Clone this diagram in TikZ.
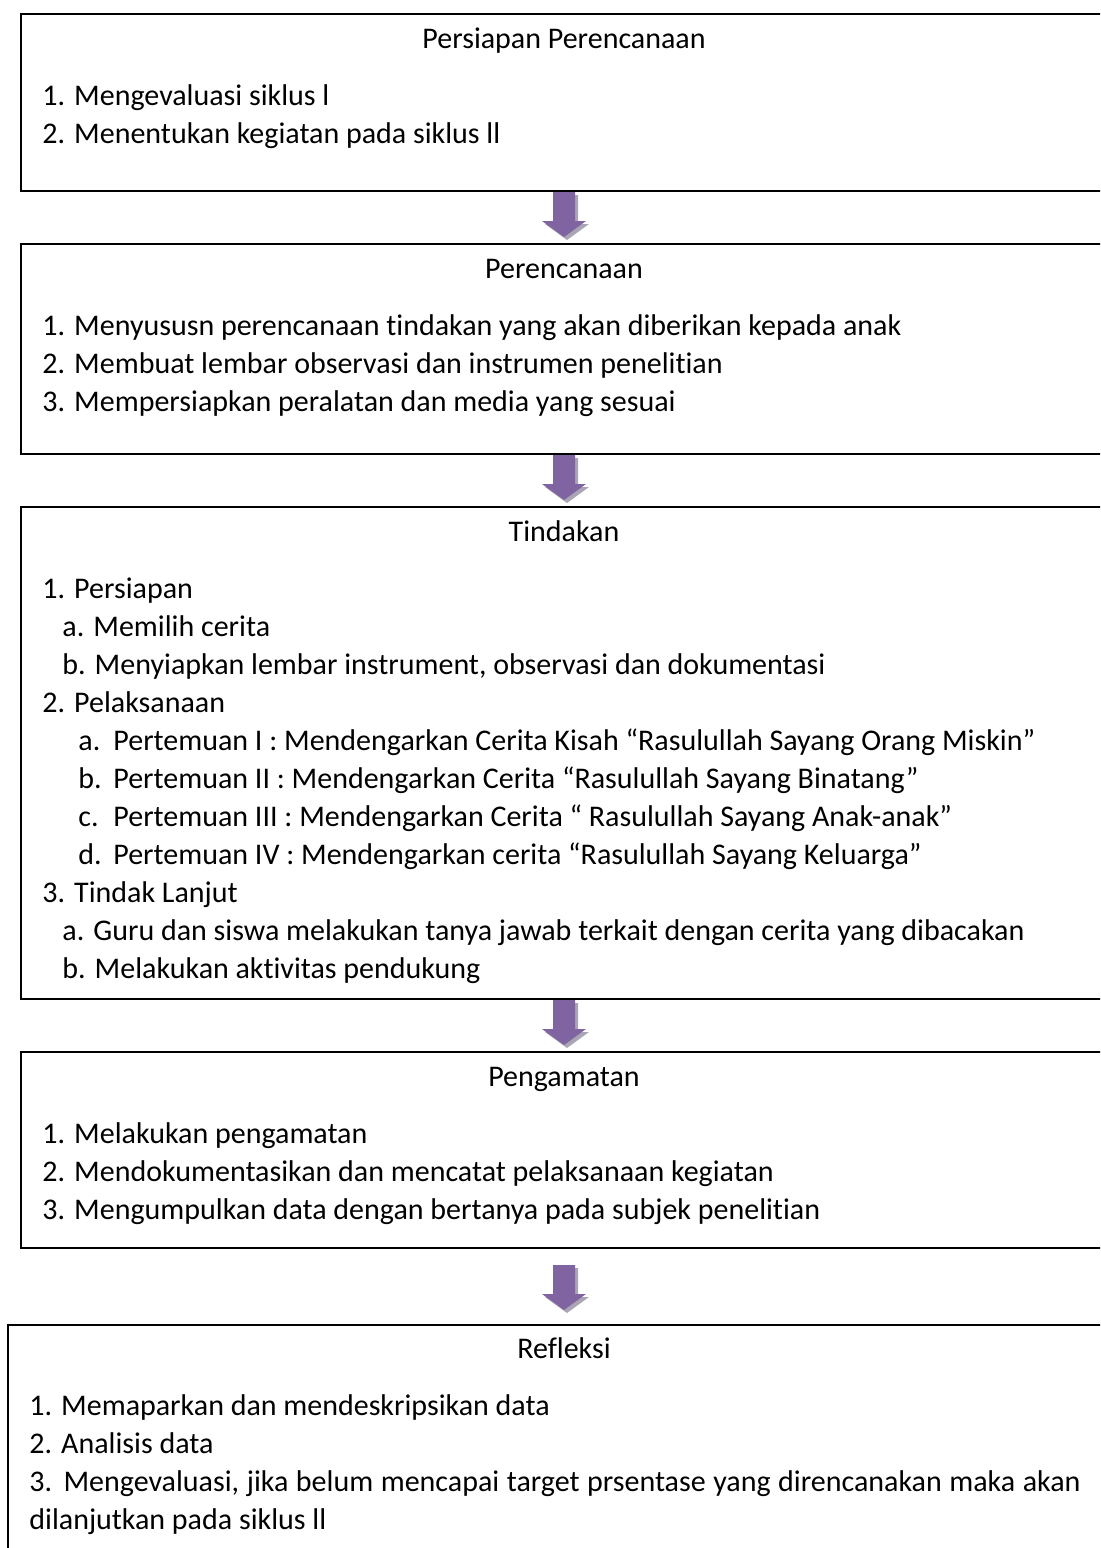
\documentclass[tikz,border=0pt]{standalone}
\usepackage{fontspec}
\setmainfont{Carlito}[Ligatures=NoCommon]
\usetikzlibrary{calc}
\definecolor{arrowpurple}{RGB}{128,100,162}
\definecolor{arrowshadow}{RGB}{170,165,180}
\tikzset{
  boxst/.style={draw=black, line width=1pt, rectangle, inner sep=0pt, anchor=north west},
  txt/.style={anchor=west, inner sep=0pt, font=\fontsize{15}{18}\selectfont, text height=0.7em, text depth=0.2em},
  ttl/.style={txt, anchor=center},
}
\newcommand\barrow[1]{%
  \begin{scope}[shift={#1}]
    \fill[arrowshadow] (-8,3) -- (14,3) -- (14,32) -- (25,32) -- (3,48) -- (-19,32) -- (-8,32) -- cycle;
    \fill[arrowpurple] (-11,0) -- (11,0) -- (11,29) -- (22,29) -- (0,45) -- (-22,29) -- (-11,29) -- cycle;
  \end{scope}}
\begin{document}
\begin{tikzpicture}[x=0.5pt,y=-0.5pt]
\clip (0,0) rectangle (1100,1548);
\fill[white] (0,0) rectangle (1100,1548);
\coordinate (ax) at (564,0);
% boxes
\node[boxst, minimum width=550pt, minimum height=88.5pt] (b1) at (20,13) {};
\node[boxst, minimum width=550pt, minimum height=105pt] (b2) at (20,243) {};
\node[boxst, minimum width=550pt, minimum height=246pt] (b3) at (20,506) {};
\node[boxst, minimum width=550pt, minimum height=98pt] (b4) at (20,1051) {};
\node[boxst, minimum width=555pt, minimum height=120pt] (b5) at (7,1324) {};
% arrows
\barrow{(b1.south -| ax)}
\barrow{(b2.south -| ax)}
\barrow{(b3.south -| ax)}
\barrow{($(b4.south -| ax)+(0,16)$)}
% box 1
\node[ttl] (t1) at (564,43) {Persiapan Perencanaan};
\node[txt] (t1a) at (42,100) {1. Mengevaluasi siklus l};
\node[txt] (t1b) at (42,138) {2. Menentukan kegiatan pada siklus ll};
% box 2
\node[ttl] (t2) at (564,273) {Perencanaan};
\node[txt] (t2a) at (42,330) {1. Menyususn perencanaan tindakan yang akan diberikan kepada anak};
\node[txt] (t2b) at (42,368) {2. Membuat lembar observasi dan instrumen penelitian};
\node[txt] (t2c) at (42,406) {3. Mempersiapkan peralatan dan media yang sesuai};
% box 3
\node[ttl] (t3) at (564,536) {Tindakan};
\node[txt] (t3a) at (42,593) {1. Persiapan};
\node[txt] (t3b) at (62,631) {a. Memilih cerita};
\node[txt] (t3c) at (62,669) {b. Menyiapkan lembar instrument, observasi dan dokumentasi};
\node[txt] (t3d) at (42,707) {2. Pelaksanaan};
\node[txt] (t3e) at (78,745) {\makebox[17.5pt][l]{a.}Pertemuan I : Mendengarkan Cerita Kisah “Rasulullah Sayang Orang Miskin”};
\node[txt] (t3f) at (78,783) {\makebox[17.5pt][l]{b.}Pertemuan II : Mendengarkan Cerita “Rasulullah Sayang Binatang”};
\node[txt] (t3g) at (78,821) {\makebox[17.5pt][l]{c.}Pertemuan III : Mendengarkan Cerita “ Rasulullah Sayang Anak-anak”};
\node[txt] (t3h) at (78,859) {\makebox[17.5pt][l]{d.}Pertemuan IV : Mendengarkan cerita “Rasulullah Sayang Keluarga”};
\node[txt] (t3i) at (42,897) {3. Tindak Lanjut};
\node[txt] (t3j) at (62,935) {a. Guru dan siswa melakukan tanya jawab terkait dengan cerita yang dibacakan};
\node[txt] (t3k) at (62,973) {b. Melakukan aktivitas pendukung};
% box 4
\node[ttl] (t4) at (564,1081) {Pengamatan};
\node[txt] (t4a) at (42,1138) {1. Melakukan pengamatan};
\node[txt] (t4b) at (42,1176) {2. Mendokumentasikan dan mencatat pelaksanaan kegiatan};
\node[txt] (t4c) at (42,1214) {3. Mengumpulkan data dengan bertanya pada subjek penelitian};
% box 5
\node[ttl] (t5) at (564,1353) {Refleksi};
\node[txt] (t5a) at (29,1410) {1. Memaparkan dan mendeskripsikan data};
\node[txt] (t5b) at (29,1448) {2. Analisis data};
\node[txt] (t5c) at (29,1486) {\makebox[525.5pt][s]{3. Mengevaluasi, jika belum mencapai target prsentase yang direncanakan maka akan}};
\node[txt] (t5d) at (29,1524) {dilanjutkan pada siklus ll};
\end{tikzpicture}
\end{document}
